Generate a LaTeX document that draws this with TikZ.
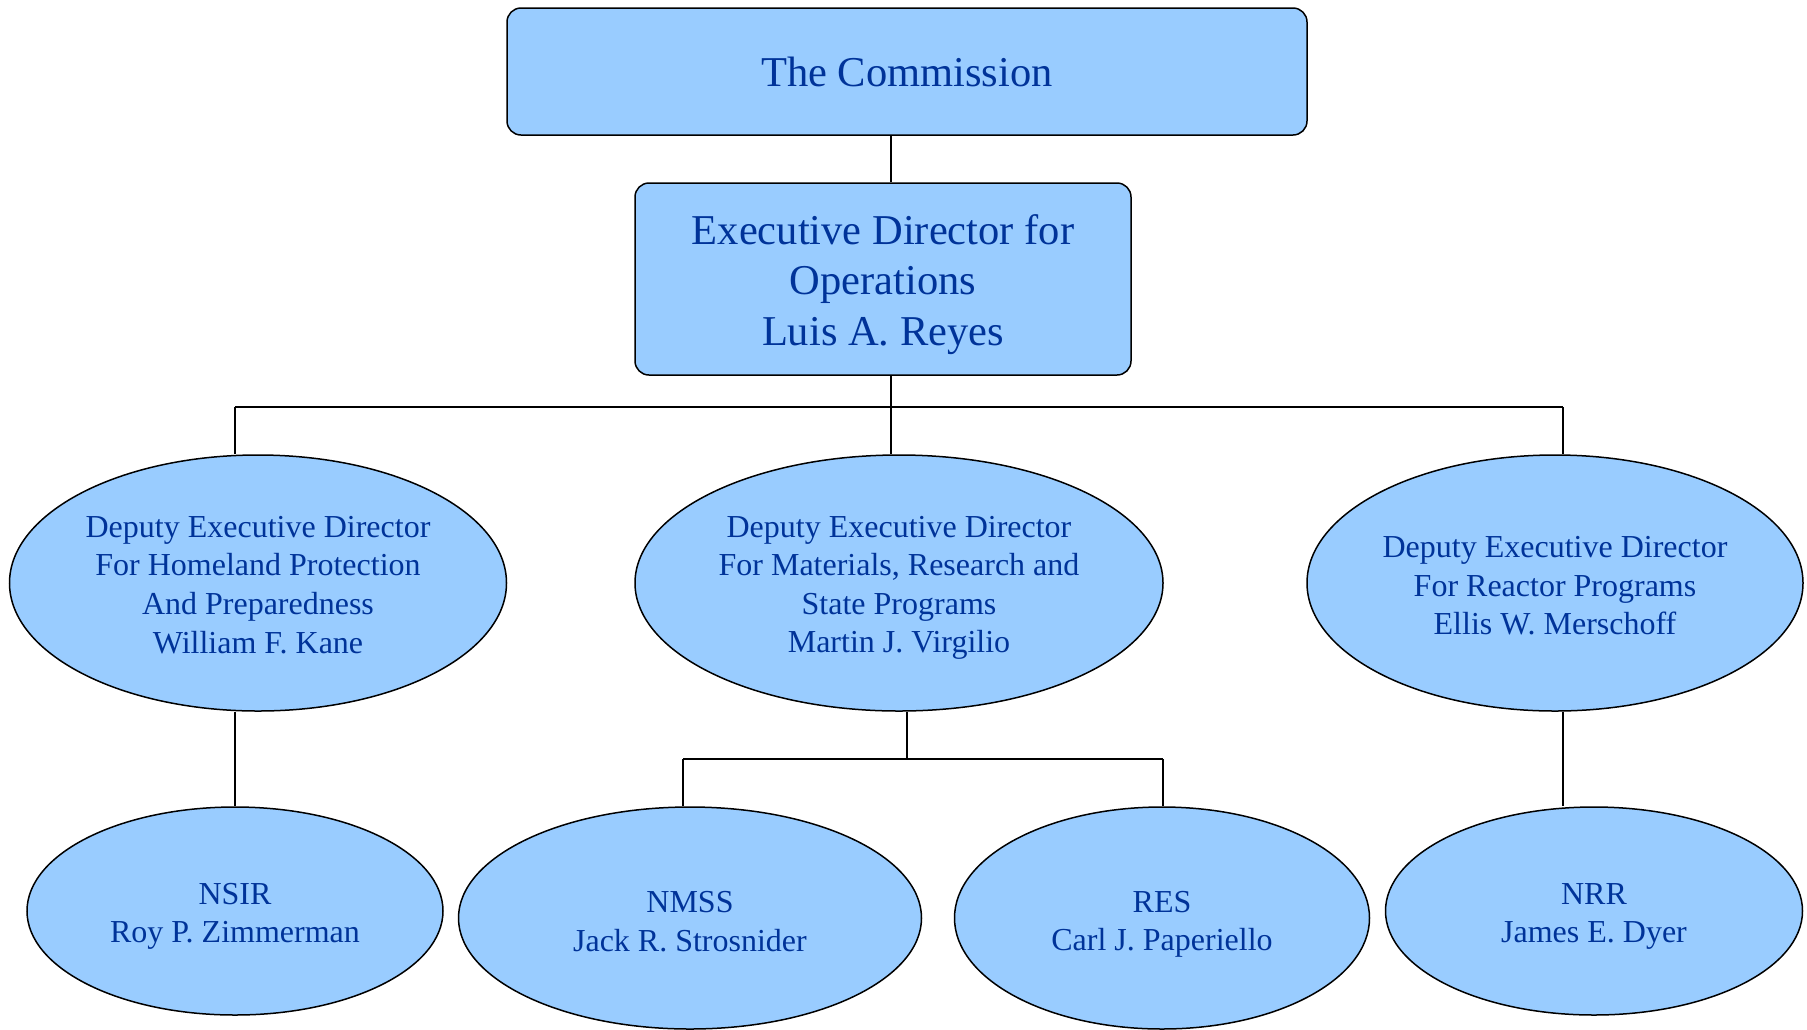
\documentclass[tikz,border=0pt]{standalone}
\usepackage{fontspec}
\setmainfont{Liberation Serif}
\usetikzlibrary{shapes.geometric}
\definecolor{boxfill}{HTML}{99CCFF}
\definecolor{boxtext}{HTML}{003399}
\newcommand{\topgap}[1]{\rule{0pt}{#1}}
\begin{document}
\begin{tikzpicture}[x=1pt,y=-1pt,
	topbox/.style={draw,line width=1.5pt,fill=boxfill,rounded corners=14pt,text=boxtext,align=center,inner sep=0pt,font=\fontsize{42.5}{50.7}\selectfont},
	office/.style={ellipse,draw,line width=1.5pt,fill=boxfill,text=boxtext,align=center,inner sep=0pt,font=\fontsize{32}{38.6}\selectfont},
	link/.style={line width=1.5pt}]
			\useasboundingbox(0,0) rectangle (1807,1029);
			\node[topbox,minimum width=800pt,minimum height=127pt](comm) at(907,71.5){The Commission};
			\node[topbox,minimum width=496pt,minimum height=192pt](edo) at(883,279){\topgap{41pt}Executive Director for\\Operations\\Luis A. Reyes};
			\node[office,minimum width=497pt,minimum height=256pt](dedhp) at(258,583){\topgap{25pt}Deputy Executive Director\\For Homeland Protection\\And Preparedness\\William F. Kane};
			\node[office,minimum width=528pt,minimum height=256pt](dedmrs) at(899,583){\topgap{31pt}Deputy Executive Director\\For Materials, Research and\\State Programs\\Martin J. Virgilio};
			\node[office,minimum width=496pt,minimum height=256pt](dedr) at(1555,583){\topgap{27pt}Deputy Executive Director\\For Reactor Programs\\Ellis W. Merschoff};
			\node[office,minimum width=416pt,minimum height=208pt](nsir) at(235,911){\topgap{32pt}NSIR\\Roy P. Zimmerman};
			\node[office,minimum width=463pt,minimum height=222pt](nmss) at(690,918){\topgap{28pt}NMSS\\Jack R. Strosnider};
			\node[office,minimum width=415pt,minimum height=222pt](res) at(1162,918){\topgap{34pt}RES\\Carl J. Paperiello};
			\node[office,minimum width=417pt,minimum height=208pt](nrr) at(1594,911){\topgap{32pt}NRR\\James E. Dyer};
			\coordinate(trunk) at(891,407);
			\coordinate(busl) at(235,407);
			\coordinate(busr) at(1563,407);
			\coordinate(subbus) at(907,759);
			\coordinate(subl) at(683,759);
			\coordinate(subr) at(1163,759);
			\draw[link](trunk |- comm.south)--(trunk |- edo.north);
			\draw[link](trunk |- edo.south)--(trunk);
			\draw[link](busl)--(busr);
			\draw[link](busl)--(busl |- dedhp.north);
			\draw[link](trunk)--(trunk |- dedmrs.north);
			\draw[link](busr)--(busr |- dedr.north);
			\draw[link](nsir.north |- dedhp.south)--(nsir.north);
			\draw[link](subbus |- dedmrs.south)--(subbus);
			\draw[link](subl)--(subr);
			\draw[link](subl)--(subl |- nmss.north);
			\draw[link](subr)--(subr |- res.north);
			\draw[link](busr |- dedr.south)--(busr |- nrr.north);
			\end{tikzpicture}
\end{document}
